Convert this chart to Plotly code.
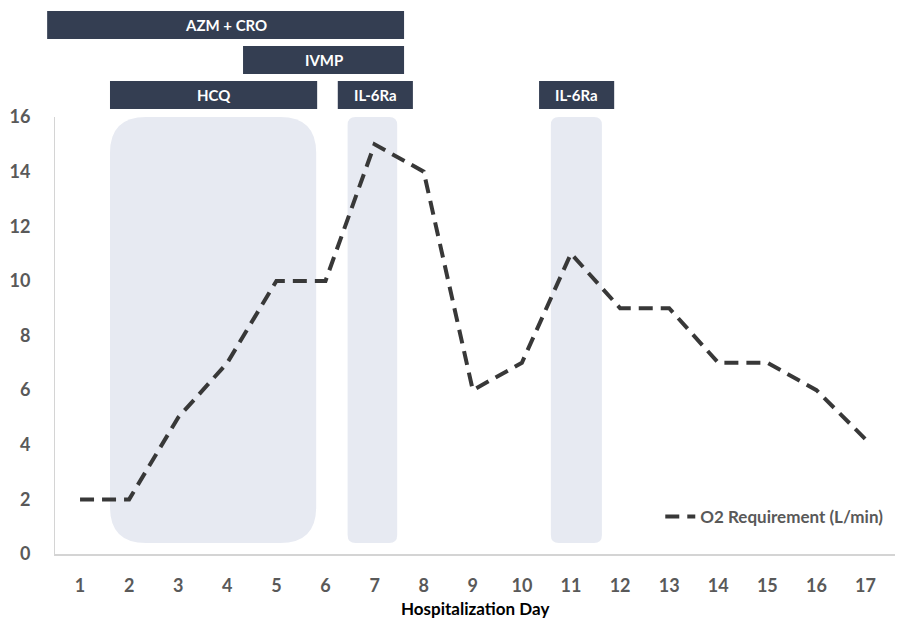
import plotly.graph_objects as go

# ---- data ----
days = list(range(1, 18))
o2_lpm = [2, 2, 5, 7, 10, 10, 15, 14, 6, 7, 11, 9, 9, 7, 7, 6, 4.2]

# treatment bars above the chart: name, start day, end day, row (0 = top)
bar_names = ["AZM + CRO", "IVMP", "HCQ", "IL-6Ra", "IL-6Ra"]
bar_start = [0.33, 4.32, 1.61, 6.25, 10.35]
bar_end = [7.60, 7.60, 5.83, 7.78, 11.88]
bar_row = [0, 1, 2, 2, 2]

# shaded treatment periods inside the chart
shade_start = [1.61, 6.45, 10.59]
shade_end = [5.81, 7.46, 11.63]
shade_low = [0.4, 0.4, 0.4]
shade_high = [16.0, 16.0, 16.0]

y_ticks = [0, 2, 4, 6, 8, 10, 12, 14, 16]

# ---- layout constants ----
W, H = 902, 621
ML, MR, MT, MB = 55, 7, 117, 67
XR = [0.49, 17.6]
YR = [0, 16]
plot_w = W - ML - MR
plot_h = H - MT - MB
px_per_x = plot_w / (XR[1] - XR[0])
px_per_y = plot_h / (YR[1] - YR[0])

NAVY = "#343e52"
SHADE = "#e7eaf2"
GRAY = "#595959"
FONT = "Lato"


def day_to_paper(d):
    return (d - XR[0]) / (XR[1] - XR[0])


def rounded_path(x0, x1, y0, y1, r_px):
    rx = r_px / px_per_x
    ry = r_px / px_per_y
    return (f"M {x0+rx},{y0} L {x1-rx},{y0} Q {x1},{y0} {x1},{y0+ry} "
            f"L {x1},{y1-ry} Q {x1},{y1} {x1-rx},{y1} "
            f"L {x0+rx},{y1} Q {x0},{y1} {x0},{y1-ry} "
            f"L {x0},{y0+ry} Q {x0},{y0} {x0+rx},{y0} Z")


fig = go.Figure()
fig.add_trace(go.Scatter(
    x=days, y=o2_lpm, mode="lines", name="O2 Requirement (L/min)",
    line=dict(color="#383838", width=4, dash="14px,8px"),
))

shapes = []
annotations = []
for i, (s, e, lo, hi) in enumerate(zip(shade_start, shade_end, shade_low, shade_high)):
    r = 36 if i == 0 else 8
    shapes.append(dict(type="path", xref="x", yref="y",
                       path=rounded_path(s, e, lo, hi, r),
                       fillcolor=SHADE, line=dict(width=0), layer="below"))

# rows of bars in pixel positions above the plot area
row_top_px = [11, 46, 81]
row_h_px = 28
for name, s, e, row in zip(bar_names, bar_start, bar_end, bar_row):
    top = (H - MB - row_top_px[row]) / plot_h
    bot = (H - MB - row_top_px[row] - row_h_px) / plot_h
    x0, x1 = day_to_paper(s), day_to_paper(e)
    shapes.append(dict(type="rect", xref="paper", yref="paper", x0=x0, x1=x1,
                       y0=bot, y1=top, fillcolor=NAVY, line=dict(width=0)))
    annotations.append(dict(x=(x0 + x1) / 2, y=(top + bot) / 2, xref="paper", yref="paper",
                            text=f"<b>{name}</b>", showarrow=False,
                            font=dict(family=FONT, size=15, color="white"),
                            xanchor="center", yanchor="middle"))

# x-axis title as annotation
annotations.append(dict(x=0.5, y=0, xref="paper", yref="paper",
                        text="<b>Hospitalization Day</b>", showarrow=False,
                        xanchor="center", yanchor="middle", yshift=-54,
                        font=dict(family=FONT, size=17, color="black")))

fig.update_layout(
    width=W, height=H,
    margin=dict(l=ML, r=MR, t=MT, b=MB),
    paper_bgcolor="white", plot_bgcolor="white",
    font=dict(family=FONT, color=GRAY),
    shapes=shapes, annotations=annotations,
    showlegend=True,
    legend=dict(x=0.992, y=0.085, xanchor="right", yanchor="middle",
                bgcolor="rgba(0,0,0,0)",
                font=dict(family=FONT, size=17, color=GRAY, weight="bold")),
    xaxis=dict(range=XR, tickmode="array", tickvals=days,
               ticktext=[f"<b>{d}</b>" for d in days],
               tickfont=dict(family=FONT, size=18, color=GRAY),
               showgrid=False, zeroline=False, showline=True,
               linecolor="#d4d4d4", linewidth=1.5, ticks="",
               ticklabelstandoff=15, automargin=False),
    yaxis=dict(range=YR, tickmode="array", tickvals=y_ticks,
               ticktext=[f"<b>{v}</b>" for v in y_ticks],
               tickfont=dict(family=FONT, size=18, color=GRAY),
               showgrid=False, zeroline=False, showline=True,
               linecolor="#d4d4d4", linewidth=1, ticks="",
               ticklabelstandoff=20, automargin=False),
)

fig.write_html("out.html", config={"displayModeBar": False},
               post_script="document.body.style.margin='0';document.body.style.overflow='hidden';")
